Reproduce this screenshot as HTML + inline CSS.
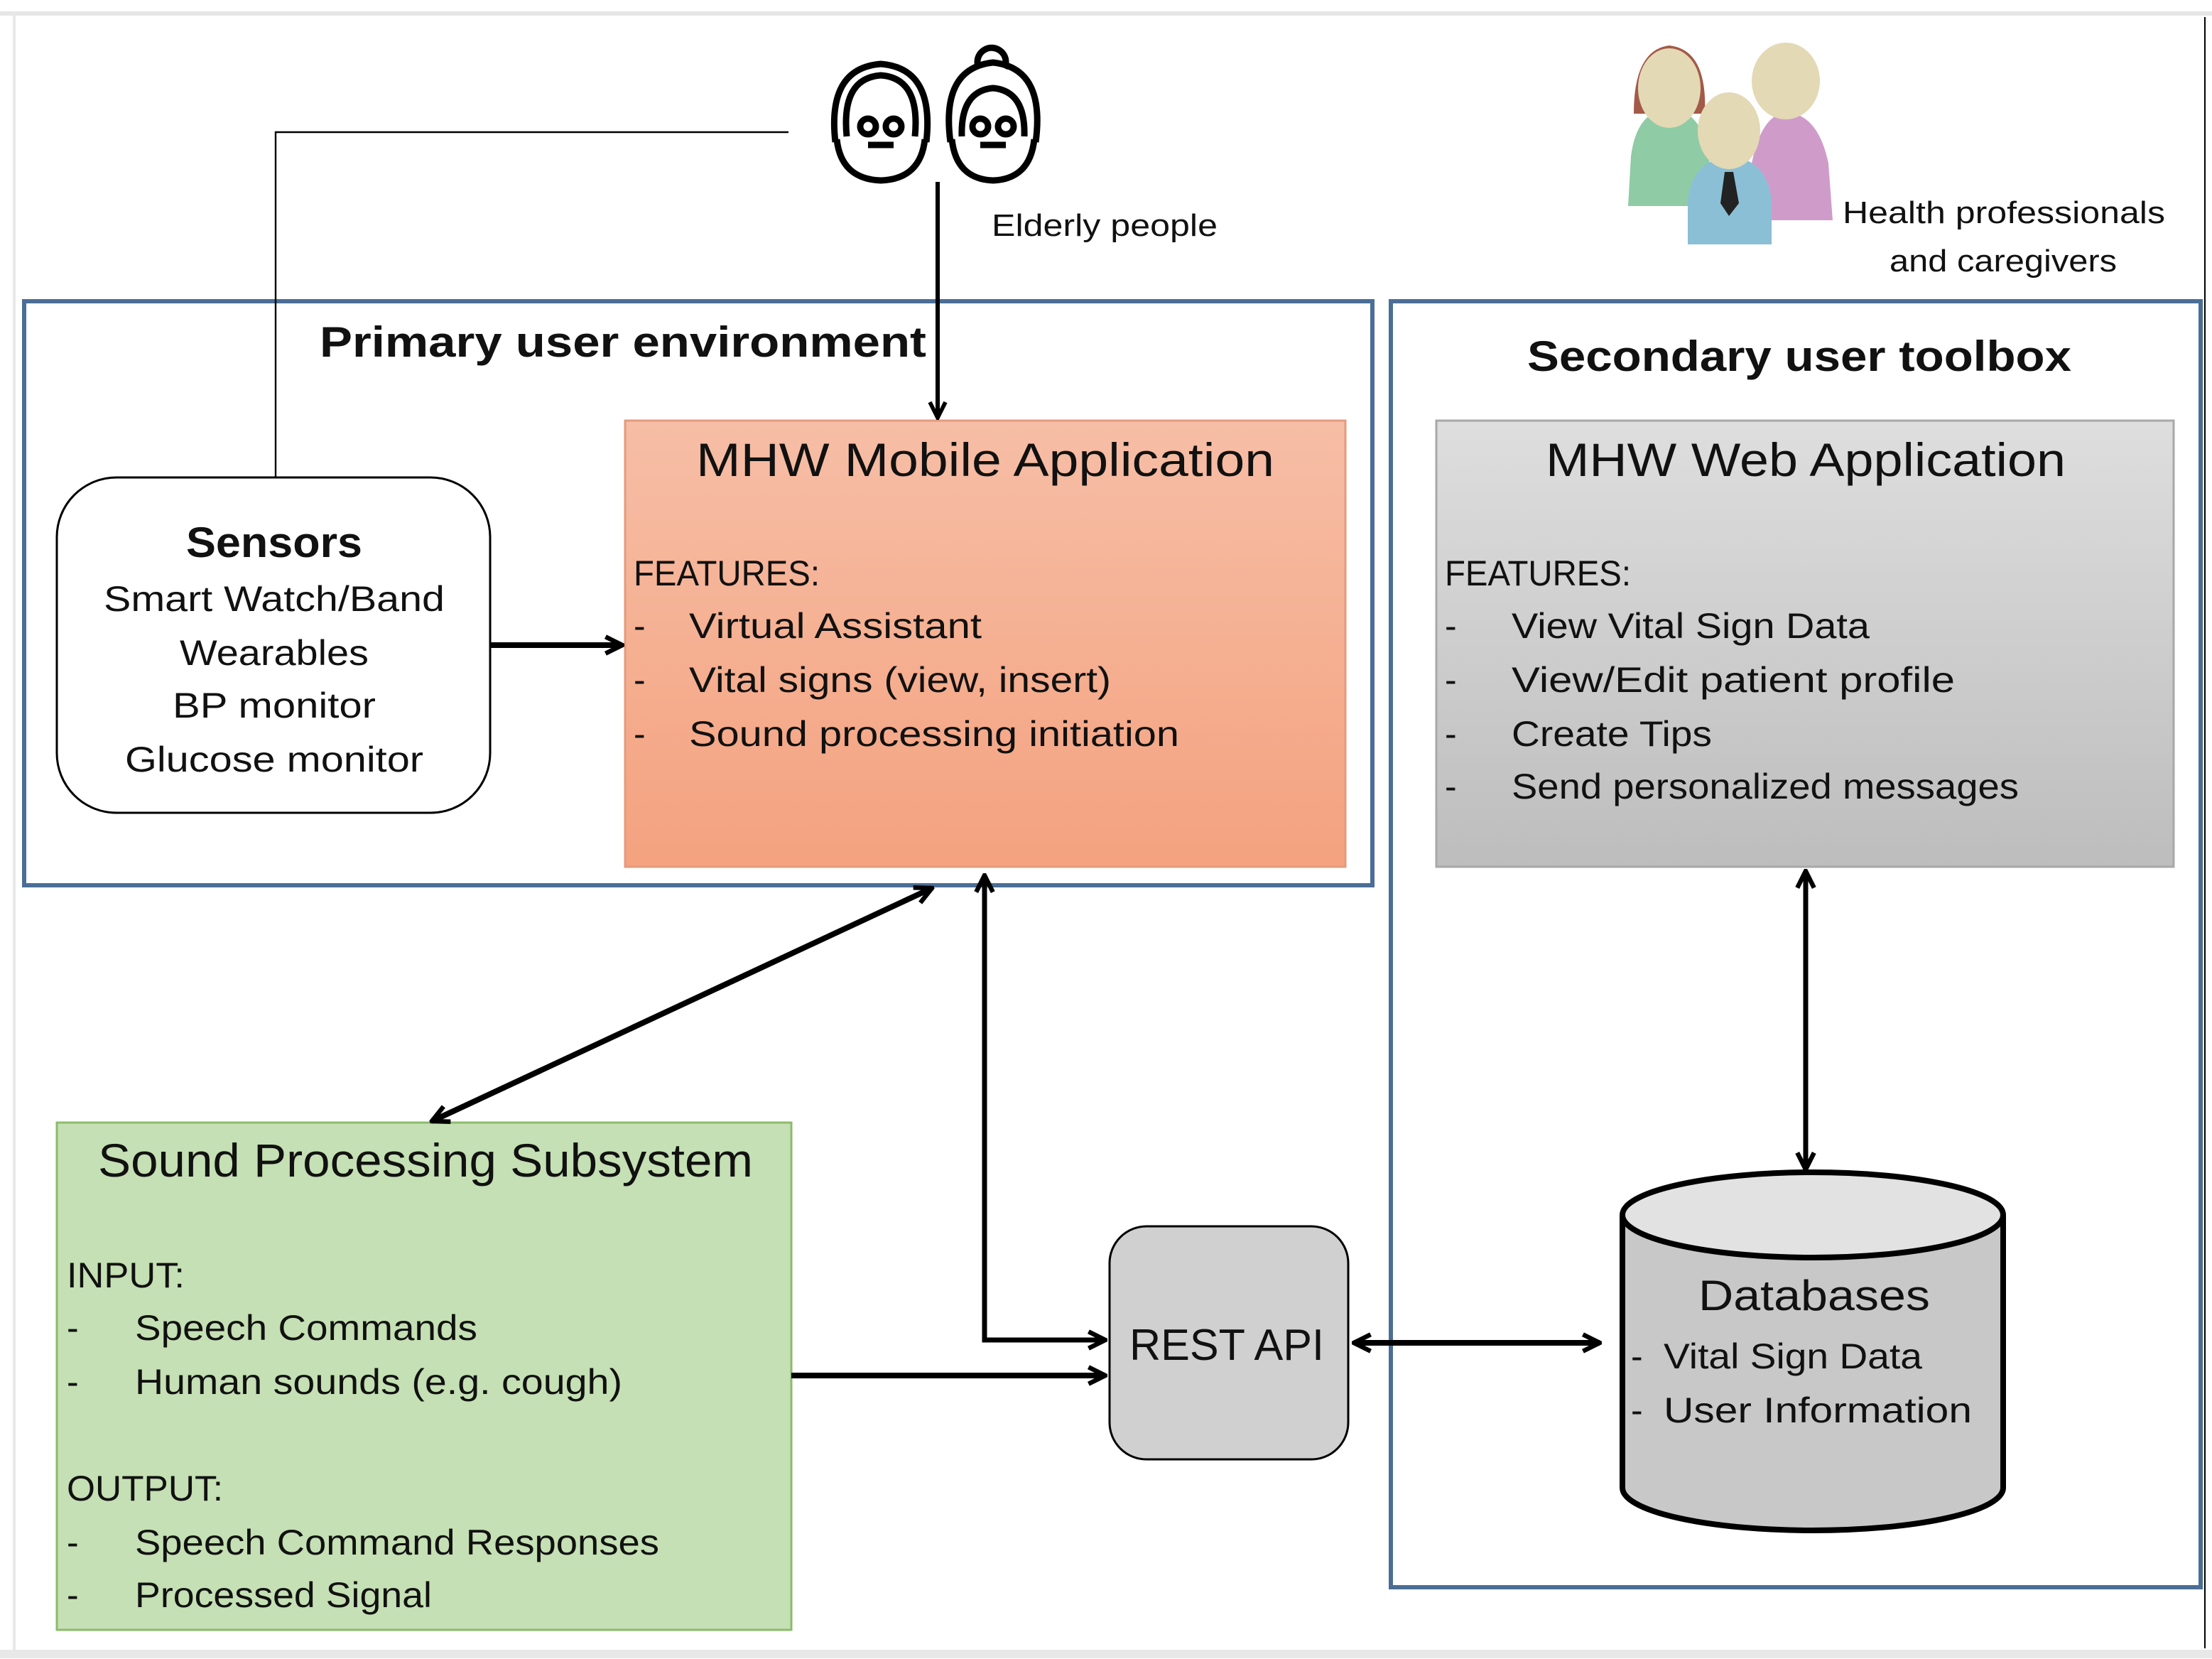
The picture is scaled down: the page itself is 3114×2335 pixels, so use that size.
<!DOCTYPE html>
<html><head><meta charset="utf-8"><style>
html,body{margin:0;padding:0;background:#fff}
svg{display:block}
text{font-family:"Liberation Sans",sans-serif;fill:#111}
</style></head><body>
<svg width="3114" height="2335" viewBox="0 0 1557 1167.5" xmlns="http://www.w3.org/2000/svg">
<defs>
<linearGradient id="gm" x1="0" y1="0" x2="0" y2="1"><stop offset="0" stop-color="#f6bea6"/><stop offset="1" stop-color="#f4a27f"/></linearGradient>
<linearGradient id="gw" x1="0" y1="0" x2="0" y2="1"><stop offset="0" stop-color="#dedede"/><stop offset="1" stop-color="#bdbdbd"/></linearGradient>
<marker id="ah" viewBox="0 0 14 14" refX="12.5" refY="7" markerWidth="15" markerHeight="15" markerUnits="userSpaceOnUse" orient="auto-start-reverse">
<polyline points="1.5,1.5 12.5,7 1.5,12.5" fill="none" stroke="#000" stroke-width="3"/></marker>
<marker id="ah2" viewBox="0 0 14 14" refX="12.5" refY="7" markerWidth="14" markerHeight="14" markerUnits="userSpaceOnUse" orient="auto-start-reverse">
<polyline points="1.5,1.5 12.5,7 1.5,12.5" fill="none" stroke="#000" stroke-width="2.8"/></marker>
</defs>
<rect x="0" y="0" width="1557" height="1167.5" fill="#fff"/>
<rect x="0" y="8" width="1557" height="3" fill="#e6e6e6"/>
<rect x="9" y="8" width="2" height="1156" fill="#e8e8e8"/>
<rect x="0" y="1161" width="1557" height="6" fill="#e8e8e8"/>
<line x1="1552" y1="12" x2="1552" y2="1160" stroke="#000" stroke-width="1"/>

<rect x="17" y="212" width="949" height="411" fill="none" stroke="#4a6e96" stroke-width="3"/>
<rect x="979" y="212" width="570" height="905" fill="none" stroke="#4a6e96" stroke-width="3"/>

<g fill="none" stroke="#000" stroke-width="4.5">
<path d="M588 100 Q582 48 620 45 Q658 48 652 100"/>
<path d="M596 96 Q592 55 620 53 Q648 55 644 96"/>
<path d="M589 98 Q592 126 620 127 Q648 126 651 98"/>
<circle cx="611" cy="89" r="5.5"/><circle cx="629" cy="89" r="5.5"/>
<line x1="611" y1="102" x2="629" y2="102"/>
<path d="M689 48 A10 10 0 1 1 707 48"/>
<path d="M669 100 Q662 48 699 44 Q736 48 729 100"/>
<path d="M677 96 Q676 64 699 62 Q722 64 721 96"/>
<path d="M670 98 Q673 126 699 127 Q725 126 728 98"/>
<circle cx="690" cy="89" r="5.5"/><circle cx="708" cy="89" r="5.5"/>
<line x1="690" y1="102" x2="708" y2="102"/>
</g>
<text x="698" y="166" font-size="22" textLength="159" lengthAdjust="spacingAndGlyphs">Elderly people</text>

<path d="M1150 80 Q1150 35 1175 32 Q1202 35 1200 80 Z" fill="#a35a48"/>
<path d="M1146 145 L1148 110 Q1152 78 1175 76 Q1198 78 1203 110 L1205 145 Z" fill="#8fcba5"/>
<ellipse cx="1175" cy="62" rx="22" ry="28" fill="#e3d9b5"/>
<path d="M1230 155 L1233 115 Q1240 80 1258 79 Q1280 81 1287 115 L1290 155 Z" fill="#cf9cc9"/>
<ellipse cx="1257" cy="57" rx="24" ry="27" fill="#e3d9b5"/>
<path d="M1188 172 L1188 140 Q1192 112 1218 110 Q1243 112 1247 140 L1247 172 Z" fill="#8bbfd5"/>
<ellipse cx="1217" cy="92" rx="22" ry="27" fill="#e3d9b5"/>
<path d="M1214 121 L1220 121 L1224 143 L1217 152 L1211 143 Z" fill="#222"/>
<text x="1297" y="157" font-size="22" textLength="227" lengthAdjust="spacingAndGlyphs">Health professionals</text>
<text x="1330" y="191" font-size="22" textLength="160" lengthAdjust="spacingAndGlyphs">and caregivers</text>

<text x="225" y="251" font-size="30" font-weight="bold" textLength="427" lengthAdjust="spacingAndGlyphs">Primary user environment</text>
<text x="1075" y="261" font-size="30" font-weight="bold" textLength="383" lengthAdjust="spacingAndGlyphs">Secondary user toolbox</text>

<rect x="440" y="296" width="507" height="314" fill="url(#gm)" stroke="#e59a7c" stroke-width="1.5"/>
<text x="490" y="335" font-size="33" textLength="407" lengthAdjust="spacingAndGlyphs">MHW Mobile Application</text>
<g font-size="25">
<text x="446" y="412" textLength="131" lengthAdjust="spacingAndGlyphs">FEATURES:</text>
<text x="446" y="449">-</text><text x="485" y="449" textLength="206" lengthAdjust="spacingAndGlyphs">Virtual Assistant</text>
<text x="446" y="487">-</text><text x="485" y="487" textLength="297" lengthAdjust="spacingAndGlyphs">Vital signs (view, insert)</text>
<text x="446" y="525">-</text><text x="485" y="525" textLength="345" lengthAdjust="spacingAndGlyphs">Sound processing initiation</text>
</g>

<rect x="1011" y="296" width="519" height="314" fill="url(#gw)" stroke="#a8a8a8" stroke-width="1.5"/>
<text x="1088" y="335" font-size="33" textLength="366" lengthAdjust="spacingAndGlyphs">MHW Web Application</text>
<g font-size="25">
<text x="1017" y="412" textLength="131" lengthAdjust="spacingAndGlyphs">FEATURES:</text>
<text x="1017" y="449">-</text><text x="1064" y="449" textLength="252" lengthAdjust="spacingAndGlyphs">View Vital Sign Data</text>
<text x="1017" y="487">-</text><text x="1064" y="487" textLength="312" lengthAdjust="spacingAndGlyphs">View/Edit patient profile</text>
<text x="1017" y="525">-</text><text x="1064" y="525" textLength="141" lengthAdjust="spacingAndGlyphs">Create Tips</text>
<text x="1017" y="562">-</text><text x="1064" y="562" textLength="357" lengthAdjust="spacingAndGlyphs">Send personalized messages</text>
</g>

<rect x="40" y="336" width="305" height="236" rx="42" fill="#fff" stroke="#000" stroke-width="1.5"/>
<g font-size="25" text-anchor="middle">
<text x="193" y="392" font-size="30" font-weight="bold" textLength="124" lengthAdjust="spacingAndGlyphs">Sensors</text>
<text x="193" y="430" textLength="240" lengthAdjust="spacingAndGlyphs">Smart Watch/Band</text>
<text x="193" y="468" textLength="133" lengthAdjust="spacingAndGlyphs">Wearables</text>
<text x="193" y="505" textLength="143" lengthAdjust="spacingAndGlyphs">BP monitor</text>
<text x="193" y="543" textLength="210" lengthAdjust="spacingAndGlyphs">Glucose monitor</text>
</g>

<rect x="40" y="790" width="517" height="357" fill="#c5e0b4" stroke="#8cbb6c" stroke-width="1.5"/>
<text x="69" y="828" font-size="33" textLength="461" lengthAdjust="spacingAndGlyphs">Sound Processing Subsystem</text>
<g font-size="25">
<text x="47" y="906" textLength="83" lengthAdjust="spacingAndGlyphs">INPUT:</text>
<text x="47" y="943">-</text><text x="95" y="943" textLength="241" lengthAdjust="spacingAndGlyphs">Speech Commands</text>
<text x="47" y="981">-</text><text x="95" y="981" textLength="343" lengthAdjust="spacingAndGlyphs">Human sounds (e.g. cough)</text>
<text x="47" y="1056" textLength="110" lengthAdjust="spacingAndGlyphs">OUTPUT:</text>
<text x="47" y="1094">-</text><text x="95" y="1094" textLength="369" lengthAdjust="spacingAndGlyphs">Speech Command Responses</text>
<text x="47" y="1131">-</text><text x="95" y="1131" textLength="209" lengthAdjust="spacingAndGlyphs">Processed Signal</text>
</g>

<rect x="781" y="863" width="168" height="164" rx="26" fill="#d0d0d0" stroke="#000" stroke-width="1.5"/>
<text x="795" y="957" font-size="31" textLength="137" lengthAdjust="spacingAndGlyphs">REST API</text>

<path d="M1142 855 L1142 1047 A134 30 0 0 0 1410 1047 L1410 855" fill="#c8c8c8" stroke="#000" stroke-width="4"/>
<ellipse cx="1276" cy="855" rx="134" ry="30" fill="#e2e2e2" stroke="#000" stroke-width="4"/>
<text x="1277" y="922" font-size="30" text-anchor="middle" textLength="163" lengthAdjust="spacingAndGlyphs">Databases</text>
<g font-size="25">
<text x="1148" y="963">-</text><text x="1171" y="963" textLength="182" lengthAdjust="spacingAndGlyphs">Vital Sign Data</text>
<text x="1148" y="1001">-</text><text x="1171" y="1001" textLength="217" lengthAdjust="spacingAndGlyphs">User Information</text>
</g>

<polyline points="555,93 194,93 194,336" fill="none" stroke="#000" stroke-width="1.2"/>
<line x1="660" y1="128" x2="660" y2="294" stroke="#000" stroke-width="3" marker-end="url(#ah2)"/>
<line x1="345" y1="454" x2="438" y2="454" stroke="#000" stroke-width="4" marker-end="url(#ah)"/>
<line x1="656" y1="625" x2="304" y2="789" stroke="#000" stroke-width="4" marker-start="url(#ah)" marker-end="url(#ah)"/>
<polyline points="693,616 693,943 778,943" fill="none" stroke="#000" stroke-width="3.5" marker-start="url(#ah)" marker-end="url(#ah)"/>
<line x1="557" y1="968" x2="778" y2="968" stroke="#000" stroke-width="4" marker-end="url(#ah)"/>
<line x1="953" y1="945" x2="1126" y2="945" stroke="#000" stroke-width="4" marker-start="url(#ah)" marker-end="url(#ah)"/>
<line x1="1271" y1="613" x2="1271" y2="823" stroke="#000" stroke-width="3.5" marker-start="url(#ah)" marker-end="url(#ah)"/>
</svg>
</body></html>
